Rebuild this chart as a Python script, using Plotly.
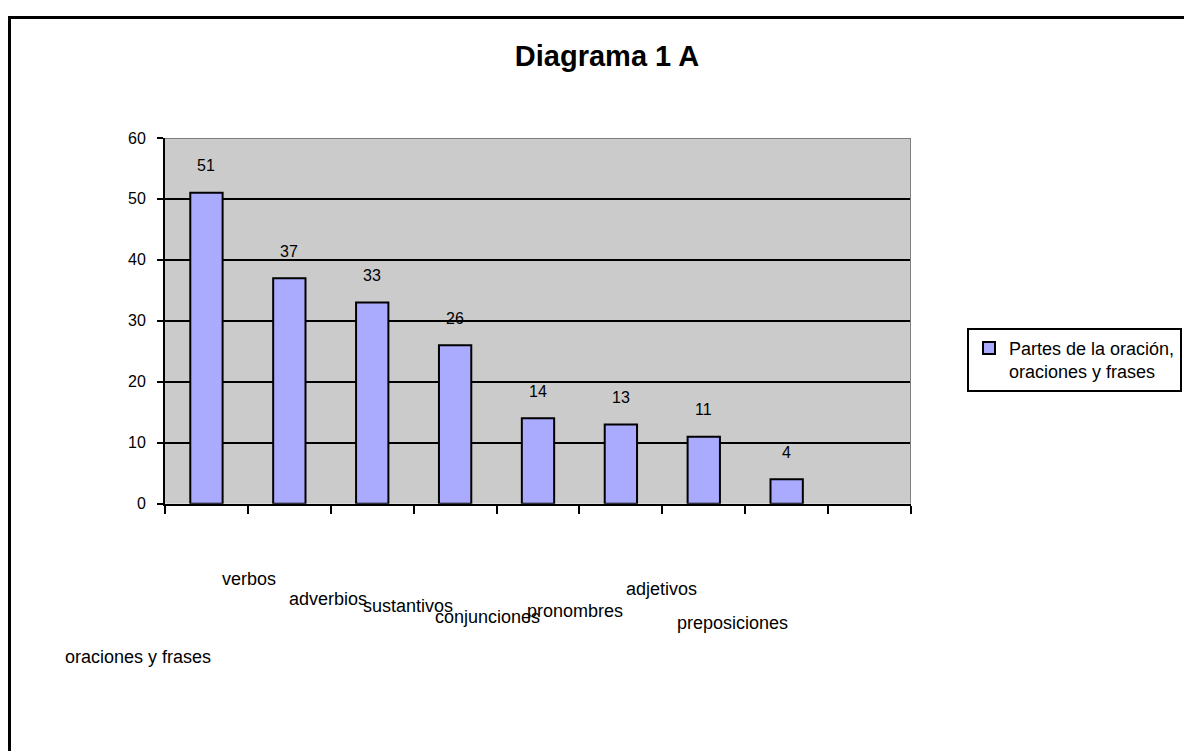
import plotly.graph_objects as go

# ---- data ----
categories = ["oraciones y frases", "verbos", "adverbios", "sustantivos",
              "conjunciones", "pronombres", "adjetivos", "preposiciones"]
values = [51, 37, 33, 26, 14, 13, 11, 4]
n_slots = 9  # the category axis has one empty trailing slot
y_ticks = [0, 10, 20, 30, 40, 50, 60]
series_name = "Partes de la oración,<br>oraciones y frases"
title_text = "Diagrama 1 A"

# ---- layout constants (pixels, in the reference picture's frame) ----
X_OFF, Y_OFF, Y_SCALE = 8, 16, 0.978   # how the page lands in the photo
W, H = 1184, 752
PX0, PX1 = 165, 911      # plot area left/right
PY0, PY1 = 138, 504      # plot area top/bottom
# staggered category label positions (left x, centre y), as in the original
label_pos = [(63, 657), (220, 579), (287, 599), (361, 606), (433, 617),
             (525, 611), (624, 589), (675, 623)]


def px(x):
    return (x - X_OFF) / W


def py(y):
    return 1 - ((y - Y_OFF) / Y_SCALE) / H


FONT = "Liberation Sans, Arial, sans-serif"
x_idx = list(range(len(categories)))

fig = go.Figure()
fig.add_trace(go.Bar(
    x=x_idx, y=values, width=0.39, name=series_name,
    marker=dict(color="#AAAAFF", line=dict(color="black", width=2)),
    showlegend=True, hoverinfo="skip",
))

annotations = []
# data labels above bars
for xi, v in zip(x_idx, values):
    annotations.append(dict(x=xi, y=v, xref="x", yref="y", text=str(v),
                            showarrow=False, yanchor="middle", yshift=27,
                            font=dict(family=FONT, size=16, color="black")))
# category labels
for name, (lx, ly) in zip(categories, label_pos):
    annotations.append(dict(x=px(lx), y=py(ly), xref="paper", yref="paper",
                            text=name, showarrow=False, xanchor="left",
                            yanchor="middle",
                            font=dict(family=FONT, size=18, color="black")))

shapes = [
    # outer chart border (left + top visible)
    dict(type="rect", xref="paper", yref="paper", x0=px(9.5), y0=-0.1,
         x1=1.1, y1=1 - 1.6 / H, line=dict(color="black", width=3), layer="below"),
    # grey plot-area border top and right
    dict(type="line", xref="x", yref="y", x0=-0.5, x1=n_slots - 0.5, y0=60, y1=60,
         line=dict(color="#808080", width=2), layer="above"),
    dict(type="line", xref="x", yref="y", x0=n_slots - 0.5, x1=n_slots - 0.5, y0=0, y1=60,
         line=dict(color="#808080", width=2), layer="above"),
]

fig.update_layout(
    width=W, height=H, autosize=False,
    margin=dict(l=0, r=0, t=0, b=0),
    paper_bgcolor="white", plot_bgcolor="#CBCBCB",
    font=dict(family=FONT, size=16, color="black"),
    title=dict(text="<b>" + title_text + "</b>", x=px(607), xanchor="center",
               xref="paper", yref="paper", y=py(56), yanchor="middle",
               font=dict(family=FONT, size=29, color="black")),
    xaxis=dict(domain=[px(PX0), px(PX1)], range=[-0.5, n_slots - 0.5],
               tickvals=[i - 0.5 for i in range(n_slots + 1)],
               ticktext=[""] * (n_slots + 1),
               ticks="outside", ticklen=8, tickwidth=2, tickcolor="black",
               showline=True, linecolor="black", linewidth=2,
               showgrid=False, zeroline=False, fixedrange=True),
    yaxis=dict(domain=[py(PY1), py(PY0)], range=[0, 60],
               tickvals=y_ticks, ticks="outside", ticklen=6, tickwidth=2,
               tickcolor="black", ticklabelstandoff=8,
               showline=True, linecolor="black", linewidth=2,
               showgrid=True, gridcolor="black", gridwidth=2,
               zeroline=False, tickfont=dict(size=16), fixedrange=True),
    legend=dict(x=px(967), y=py(328), xanchor="left", yanchor="top",
                bordercolor="black", borderwidth=2, bgcolor="white",
                font=dict(family=FONT, size=18, color="black"), valign="top"),
    annotations=annotations, shapes=shapes, bargap=0.6,
)

fig.write_html("out.html")
